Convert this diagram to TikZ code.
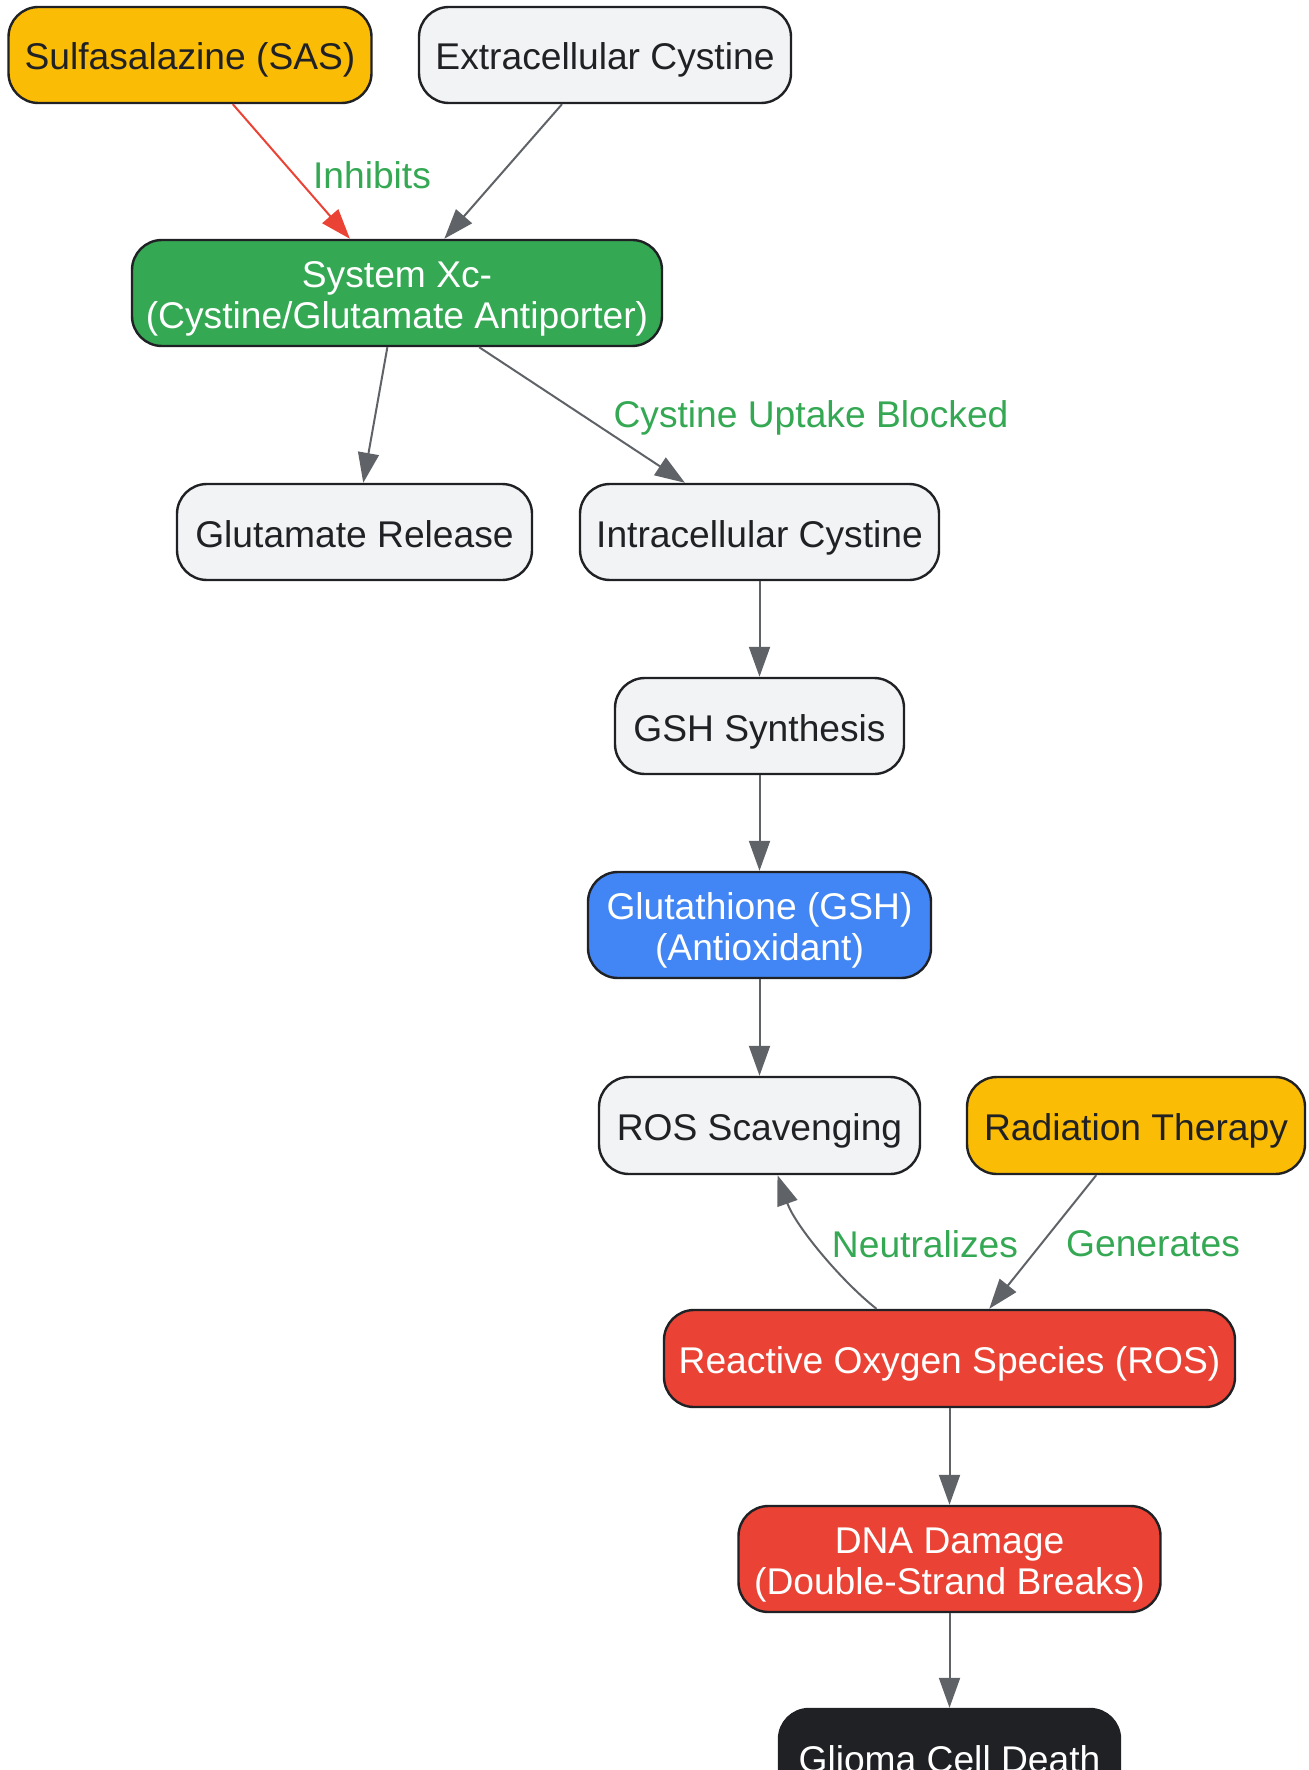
\documentclass[tikz,border=0pt]{standalone}
\usepackage{fontspec}
\setmainfont{Liberation Sans}
\usetikzlibrary{arrows.meta}
\definecolor{cYellow}{HTML}{FBBC05}
\definecolor{cLight}{HTML}{F1F3F4}
\definecolor{cGreen}{HTML}{34A853}
\definecolor{cBlue}{HTML}{4285F4}
\definecolor{cRed}{HTML}{EA4335}
\definecolor{cDark}{HTML}{202124}
\definecolor{cEdge}{HTML}{5F6368}
\newcommand\zzH{\rule{0pt}{19pt}}
\newcommand\zzD{\rule[-4pt]{0pt}{4pt}}
\tikzset{
  box/.style={rectangle, rounded corners=15pt, draw=cDark, line width=1.2pt,
    align=center, inner sep=0pt, text=cDark,
    font=\fontsize{18.6pt}{20.5pt}\selectfont},
  lightbox/.style={box, fill=cLight},
  yellowbox/.style={box, fill=cYellow},
  greenbox/.style={box, fill=cGreen, text=white},
  bluebox/.style={box, fill=cBlue, text=white},
  redbox/.style={box, fill=cRed, text=white},
  darkbox/.style={box, fill=cDark, text=white},
  conn/.style={draw=cEdge, line width=1pt, -{Triangle[length=15pt,width=10.5pt]}},
  redconn/.style={conn, draw=cRed, -{Triangle[length=15pt,width=10.5pt,fill=cRed]}},
  elabel/.style={text=cGreen, inner sep=0pt, font=\fontsize{18.6pt}{20.5pt}\selectfont}
}
\begin{document}
\begin{tikzpicture}[x=0.5pt,y=-0.5pt]
\useasboundingbox (0,0) rectangle (1308,1770);
\node[yellowbox, minimum width=181.5pt, minimum height=48pt] (sas) at (190,55) {\zzH Sulfasalazine (SAS)\zzD};
\node[lightbox, minimum width=186pt, minimum height=48pt] (ext) at (605,55) {\zzH Extracellular Cystine\zzD};
\node[greenbox, minimum width=265pt, minimum height=53pt] (xc) at (397,293) {\zzH System Xc-\\(Cystine/Glutamate Antiporter)\zzD};
\node[lightbox, minimum width=177.5pt, minimum height=48pt] (glu) at (354.5,532) {\zzH Glutamate Release\zzD};
\node[lightbox, minimum width=179.5pt, minimum height=48pt] (intra) at (759.5,532) {\zzH Intracellular Cystine\zzD};
\node[lightbox, minimum width=144.5pt, minimum height=48pt] (gshs) at (759.5,726) {\zzH GSH Synthesis\zzD};
\node[bluebox, minimum width=171.5pt, minimum height=53pt] (gsh) at (759.5,925) {\zzH Glutathione (GSH)\\(Antioxidant)\zzD};
\node[lightbox, minimum width=160.5pt, minimum height=48.5pt] (scav) at (759.5,1125.5) {\zzH ROS Scavenging\zzD};
\node[yellowbox, minimum width=169pt, minimum height=48.5pt] (rad) at (1136,1125.5) {\zzH Radiation Therapy\zzD};
\node[redbox, minimum width=285.5pt, minimum height=48.5pt] (ros) at (949.5,1358.5) {\zzH Reactive Oxygen Species (ROS)\zzD};
\node[redbox, minimum width=211pt, minimum height=53pt] (dna) at (949.5,1559) {\zzH DNA Damage\\(Double-Strand Breaks)\zzD};
\node[darkbox, minimum width=170.5pt, minimum height=48.5pt] (death) at (949.5,1757.5) {\zzH Glioma Cell Death\zzD};

\draw[redconn] (sas) -- (xc);
\draw[conn] (ext) -- (xc);
\draw[conn] (xc) -- (glu);
\draw[conn] (xc) -- (intra);
\draw[conn] (intra) -- (gshs);
\draw[conn] (gshs) -- (gsh);
\draw[conn] (gsh) -- (scav);
\draw[conn] ([xshift=-36.5pt]ros.north) .. controls (840,1280) and (795,1225) .. ([xshift=9pt]scav.south);
\draw[conn] (rad) -- (ros);
\draw[conn] (ros) -- (dna);
\draw[conn] (dna) -- (death);

\node[elabel] (l1) at (372,175) {Inhibits};
\node[elabel] (l2) at (811,418) {Cystine Uptake Blocked};
\node[elabel] (l3) at (925,1244) {Neutralizes};
\node[elabel] (l4) at (1153,1244) {Generates};
\end{tikzpicture}
\end{document}
